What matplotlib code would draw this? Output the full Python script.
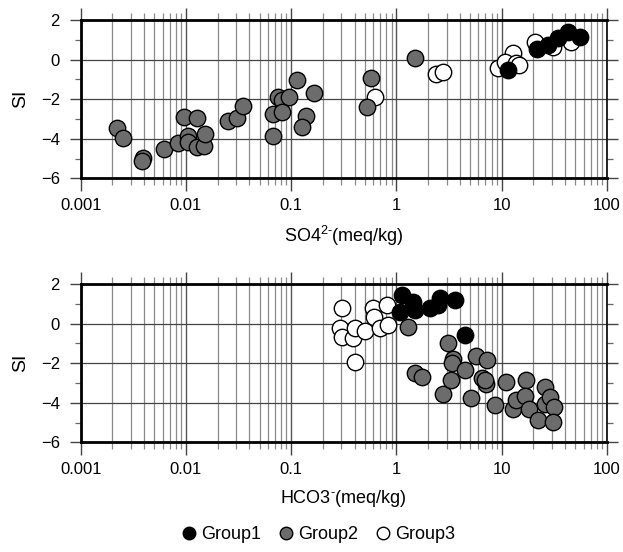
import matplotlib
matplotlib.use("Agg")
import matplotlib.pyplot as plt
from matplotlib.ticker import LogLocator, NullFormatter, FixedLocator
from matplotlib.lines import Line2D
import numpy as np

plt.rcParams['font.family'] = ['Liberation Sans', 'DejaVu Sans']
plt.rcParams['mathtext.fontset'] = 'custom'
plt.rcParams['mathtext.rm'] = 'Liberation Sans'
plt.rcParams['mathtext.it'] = 'Liberation Sans'

# ---- Top panel: SO4 ----
so4_g1_x = [11.5, 21.7, 27.6, 34.4, 42.7, 55.2]
so4_g1_y = [-0.53, 0.52, 0.74, 1.08, 1.38, 1.16]
so4_g2_x = [0.00223, 0.00251, 0.00388, 0.0038, 0.00622, 0.00845, 0.00965, 0.01265,
            0.0104, 0.0104, 0.01265, 0.0149, 0.0152, 0.0252, 0.0307, 0.0345,
            0.0666, 0.0666, 0.0743, 0.081, 0.081, 0.0957, 0.1125, 0.138, 0.1256,
            0.1653, 0.571, 0.527, 1.496]
so4_g2_y = [-3.47, -3.98, -4.98, -5.15, -4.52, -4.2, -2.88, -2.93,
            -3.86, -4.15, -4.4, -4.35, -3.76, -3.08, -2.97, -2.34,
            -3.86, -2.76, -1.87, -2.04, -2.63, -1.87, -1.03, -2.83, -3.39,
            -1.7, -0.95, -2.41, 0.07]
so4_g3_x = [0.624, 2.40, 2.74, 9.25, 12.8, 10.7, 13.8, 14.6, 20.6, 30.8, 46.0]
so4_g3_y = [-1.9, -0.73, -0.61, -0.44, 0.32, -0.1, -0.19, -0.27, 0.9, 0.65, 0.9]

# ---- Bottom panel: HCO3 ----
hco3_g1_x = [1.117, 1.076, 1.44, 1.496, 2.07, 2.58, 2.49, 3.59, 4.47]
hco3_g1_y = [1.44, 0.6, 1.1, 0.68, 0.77, 1.28, 0.94, 1.19, -0.58]
hco3_g2_x = [1.29, 1.50, 1.73, 2.78, 3.1, 3.41, 3.40, 3.33, 4.47, 5.16, 5.67,
             7.27, 6.43, 7.06, 6.9, 8.61, 11.1, 16.9, 12.8, 13.8, 16.6, 18.2,
             22.2, 25.6, 25.6, 28.6, 31.3, 30.8]
hco3_g2_y = [-0.15, -2.48, -2.7, -3.58, -0.97, -1.81, -2.0, -2.85, -2.35, -3.78, -1.64,
             -1.85, -2.74, -3.05, -2.85, -4.11, -2.97, -2.86, -4.3, -3.86, -3.65, -4.3,
             -4.85, -3.2, -4.04, -3.7, -4.2, -4.95]
hco3_g3_x = [0.301, 0.29, 0.301, 0.388, 0.403, 0.403, 0.501, 0.601, 0.61, 0.695,
             0.805, 0.834]
hco3_g3_y = [0.77, -0.24, -0.66, -0.74, -0.24, -1.93, -0.4, 0.77, 0.32, -0.24,
             0.94, -0.07]

groups = ['Group1', 'Group2', 'Group3']
colors = {'Group1': 'black', 'Group2': '#6c6c6c', 'Group3': 'white'}

fig = plt.figure(figsize=(6.23, 5.52), dpi=100)
ax1 = fig.add_axes([0.1295, 0.677, 0.8448, 0.2868])
ax2 = fig.add_axes([0.1295, 0.1987, 0.8448, 0.2868])


def style(ax, xlabel):
    ax.set_xscale('log')
    ax.set_xlim(0.001, 100)
    ax.set_ylim(-6, 2)
    ax.xaxis.set_minor_locator(LogLocator(base=10, subs=np.arange(2, 10), numticks=20))
    ax.xaxis.set_minor_formatter(NullFormatter())
    ax.set_xticks([0.001, 0.01, 0.1, 1, 10, 100])
    ax.set_xticklabels(['0.001', '0.01', '0.1', '1', '10', '100'])
    ax.yaxis.set_major_locator(FixedLocator([-6, -4, -2, 0, 2]))
    ax.yaxis.set_minor_locator(FixedLocator([-5, -3, -1, 1]))
    ax.grid(True, which='major', axis='x', color='#555555', lw=1.0, zorder=0)
    ax.grid(True, which='minor', axis='x', color='#8a8a8a', lw=0.9, zorder=0)
    ax.grid(True, which='major', axis='y', color='#444444', lw=0.9, zorder=0)
    ax.set_axisbelow(True)
    ax.tick_params(which='both', direction='out', top=True, right=True,
                   labelsize=12, colors='black')
    ax.tick_params(axis='x', which='major', length=9, width=1.0, colors='#444444',
                   labelcolor='black', pad=5)
    ax.tick_params(axis='x', which='minor', length=5, width=0.9, colors='#8a8a8a')
    ax.tick_params(axis='y', which='major', length=8, width=1.0, colors='#444444',
                   labelcolor='black', pad=7)
    ax.tick_params(axis='y', which='minor', length=4, width=0.9, colors='#666666')
    for s in ['top', 'bottom', 'left']:
        ax.spines[s].set_linewidth(2.0)
    ax.spines['right'].set_linewidth(1.2)
    ax.set_ylabel('SI', fontsize=14, labelpad=8)
    ax.set_xlabel(xlabel, fontsize=13, labelpad=8)


def draw(ax, data):
    for g in ['Group3', 'Group1', 'Group2']:
        x, y = data[g]
        ax.scatter(x, y, s=140, c=colors[g], edgecolors='black', linewidths=1.0,
                   zorder=3, clip_on=False)


draw(ax1, {'Group1': (so4_g1_x, so4_g1_y), 'Group2': (so4_g2_x, so4_g2_y),
           'Group3': (so4_g3_x, so4_g3_y)})
draw(ax2, {'Group1': (hco3_g1_x, hco3_g1_y), 'Group2': (hco3_g2_x, hco3_g2_y),
           'Group3': (hco3_g3_x, hco3_g3_y)})
style(ax1, r'SO4$^{\mathrm{2\text{-}}}$(meq/kg)')
style(ax2, r'HCO3$^{\text{-}}$(meq/kg)')

handles = [Line2D([], [], marker='o', ls='', markersize=9, markerfacecolor=colors[g],
                  markeredgecolor='black', markeredgewidth=1.0) for g in groups]
fig.legend(handles, groups, loc='center', bbox_to_anchor=(0.51, 0.031), ncol=3,
           frameon=False, fontsize=13, handletextpad=0.15, columnspacing=0.9,
           handlelength=1.0)

fig.savefig('out.png', dpi=100)
